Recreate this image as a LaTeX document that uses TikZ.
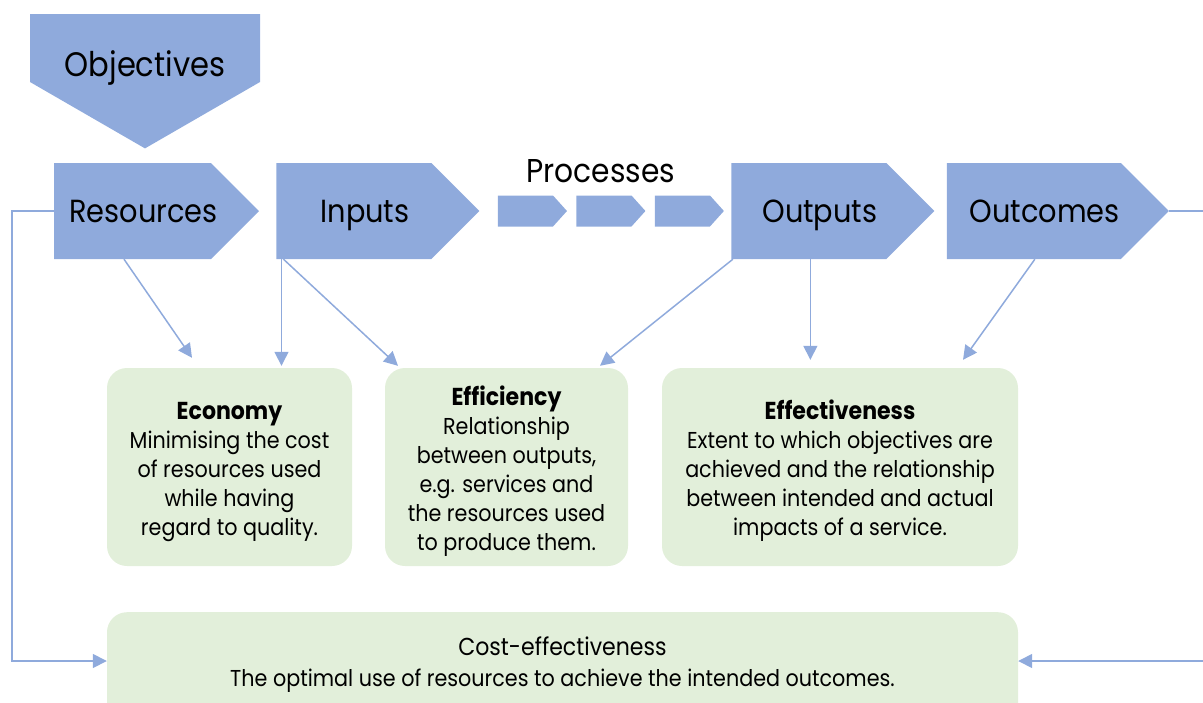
\documentclass[tikz,border=0pt]{standalone}
\usepackage{fontspec}
\setmainfont{Poppins}[FakeStretch=0.9]
\usetikzlibrary{positioning,shapes.symbols,arrows.meta}

\definecolor{stageblue}{HTML}{8FAADC}
\definecolor{measuregreen}{HTML}{E2EFDA}

% bold heading of a measure box
\newcommand{\measurehead}[1]{\rule{0pt}{27pt}\textbf{\fontsize{24.5}{29}\selectfont #1}}

\tikzset{
    stagetext/.style={font=\fontsize{32}{38}\selectfont,
                      text height=22pt, text depth=0pt},
    % blue chevrons of the chain
    stage/.style={shape=signal, signal to=east, signal pointer angle=90,
                  fill=stageblue, inner sep=0pt,
                  minimum width=203pt, minimum height=96pt,
                  label={[stagetext, xshift=11pt]center:#1}},
    % the objectives on top, pointing down
    goal/.style={shape=signal, signal to=south, signal pointer angle=120,
                 fill=stageblue, inner sep=0pt,
                 minimum width=230pt, minimum height=68pt,
                 label={[stagetext, font=\fontsize{34}{40}\selectfont, yshift=-17pt]center:#1}},
    % small chevrons of the processes
    procstep/.style={shape=signal, signal to=east, signal pointer angle=96,
                     fill=stageblue, inner sep=0pt,
                     minimum width=69pt, minimum height=31pt},
    % green boxes with the measures
    measure/.style={fill=measuregreen, rounded corners=20pt, align=center,
                    minimum height=198pt, inner sep=0pt,
                    font=\fontsize{23}{29}\selectfont},
    link/.style={draw=stageblue, line width=1.5pt,
                 -{Triangle[length=14pt,width=14pt]}}
}

\begin{document}
\begin{tikzpicture}[x=1pt,y=-1pt]
    \useasboundingbox (0,0) rectangle (1203,702);

    \node[goal=Objectives] (obj) at (145,48) {};

    % the chain
    \node[stage=Resources, minimum width=205pt] (res) at (132.5,211) {};
    \node[stage=Inputs, right=17pt of res] (inp) {};
    \node[procstep, right=18pt of inp] (p1) {};
    \node[procstep, right=9pt of p1] (p2) {};
    \node[procstep, right=9pt of p2] (p3) {};
    \node[stage=Outputs, right=7pt of p3] (outp) {};
    \node[stage=Outcomes, minimum width=222pt, right=12pt of outp] (outc) {};
    \node[above=9pt of p2, xshift=-3pt, font=\fontsize{33}{40}\selectfont] (proc) {Processes};

    % the measures
    \node[measure, minimum width=245pt] (econ) at (229.5,467)
        {\measurehead{Economy}\\Minimising the cost\\of resources used\\while having\\regard to quality.};
    \node[measure, minimum width=243pt] (effi) at (506.5,467)
        {\measurehead{Efficiency}\\Relationship\\between outputs,\\e.g. services and\\the resources used\\to produce them.};
    \node[measure, minimum width=356pt] (effe) at (840,467)
        {\measurehead{Effectiveness}\\Extent to which objectives are\\achieved and the relationship\\between intended and actual\\impacts of a service.};
    \node[measure, minimum width=911pt, minimum height=140pt, anchor=north] (cost) at (562.5,612) {};
    \node[align=center, font=\fontsize{23}{31}\selectfont] (costtext) at (562.5,665)
        {{\fontsize{24.5}{31}\selectfont Cost-effectiveness}\\The optimal use of resources to achieve the intended outcomes.};

    % arrows to the measures
    \draw[link] ([xshift=-8.5pt]res.south) -- ([xshift=-37.5pt,yshift=10pt]econ.north);
    \draw[link] ([xshift=-72.5pt]inp.south) -- ([xshift=-72.5pt,yshift=2pt]inp.south |- econ.north);
    \draw[link] ([xshift=-70.5pt]inp.south) -- ([xshift=-108.5pt,yshift=2pt]effi.north);
    \draw[link] ([xshift=-76pt]outp.south) -- ([xshift=93.5pt,yshift=2pt]effi.north);
    \draw[link] ([xshift=1.5pt]outp.south) -- ([xshift=1.5pt,yshift=8pt]outp.south |- effe.north);
    \draw[link] ([xshift=1pt]outc.south) -- ([xshift=123pt,yshift=8pt]effe.north);

    % loop to cost-effectiveness
    \coordinate (railL) at (12,661);
    \coordinate (railR) at (1206,661);
    \draw[link] (res.west) -| (railL) -- (cost.west |- railL);
    \draw[link] (outc.east) -| (railR) -- (cost.east |- railR);
\end{tikzpicture}
\end{document}
